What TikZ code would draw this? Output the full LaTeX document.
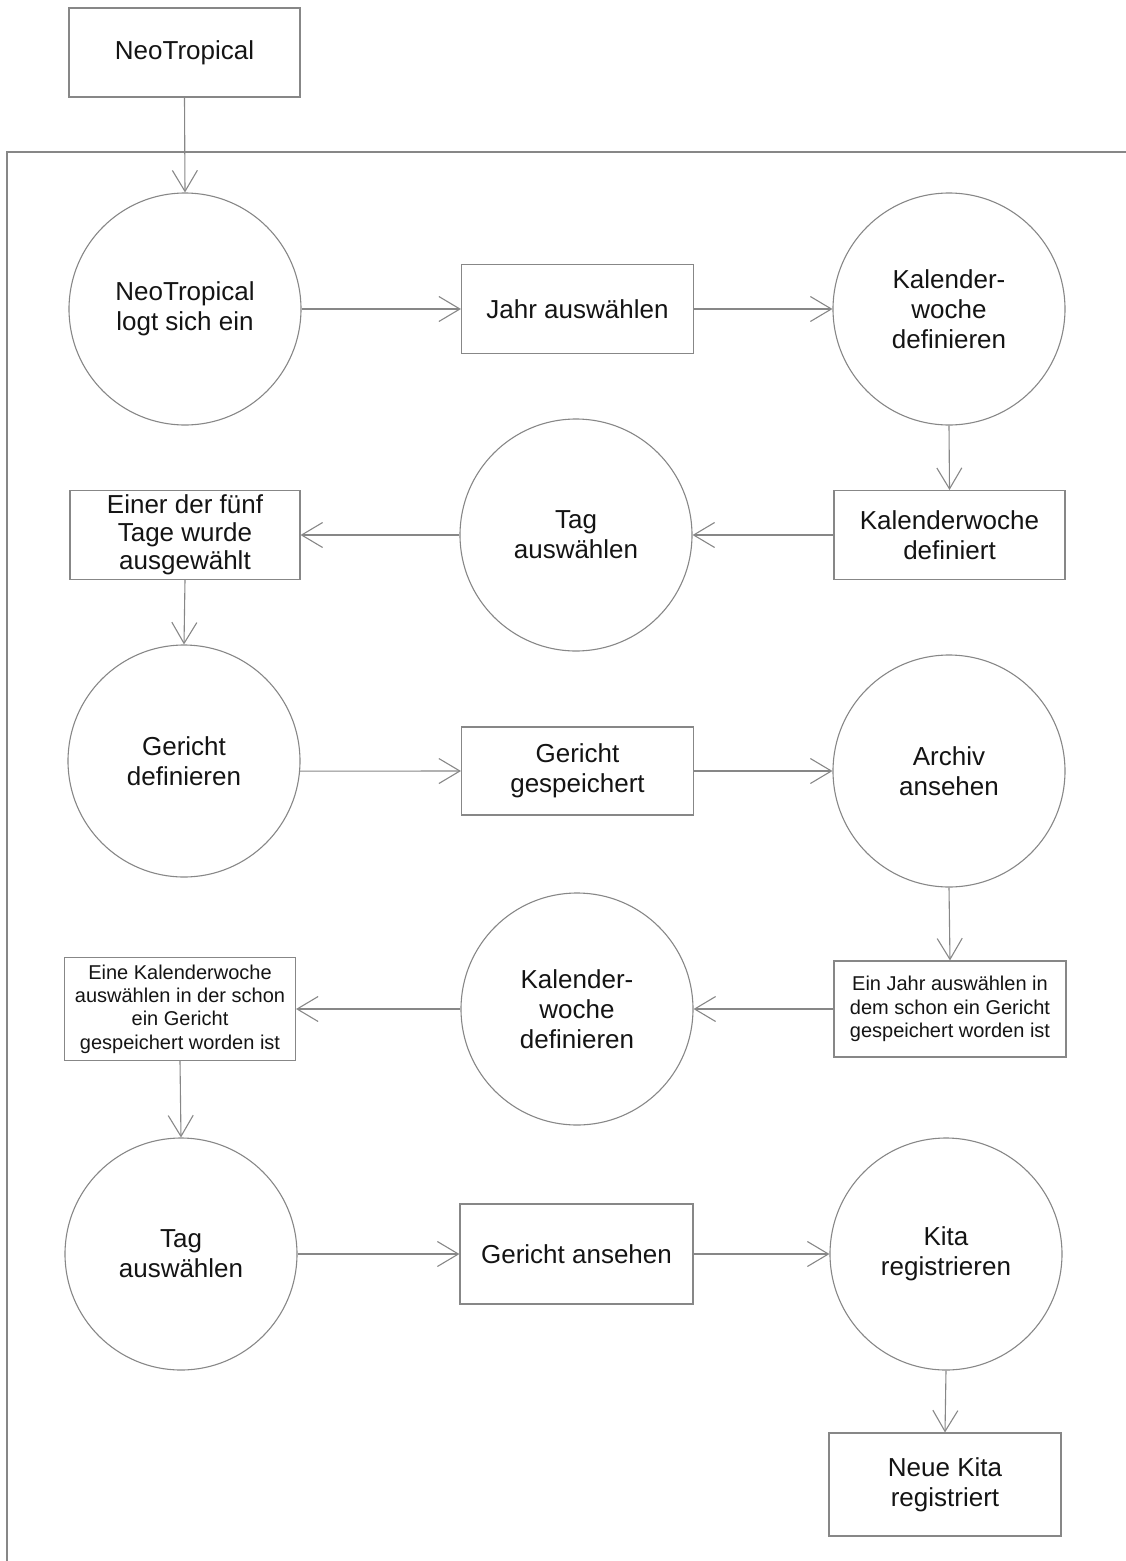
\documentclass[tikz,border=0pt]{standalone}
\usepackage{fontspec}
\setmainfont{Liberation Sans}
\usetikzlibrary{arrows.meta}
\definecolor{linegray}{RGB}{135,135,135}
\definecolor{textblack}{RGB}{20,20,20}
\tikzset{
  base/.style={draw=linegray, line width=1.1pt, text=textblack, align=center, inner sep=0pt,
    font=\fontsize{26}{30}\selectfont},
  procbox/.style={base, rectangle, minimum width=231pt, minimum height=89pt},
  smallbox/.style={procbox, font=\fontsize{20}{23.3}\selectfont},
  proccirc/.style={base, circle, minimum size=232pt},
  conn/.style={draw=linegray, line width=1.1pt, -{Straight Barb[length=21pt, width=25pt, line width=1.1pt]}},
}
\begin{document}
\begin{tikzpicture}[x=1pt, y=-1pt]
\useasboundingbox (0,0) rectangle (1126,1561);
% frame
\draw[linegray, line width=1.1pt] (1126,152) -- (7,152) -- (7,1561);
% nodes
\node[procbox] (top) at (184.5,52.5) {NeoTropical};
\node[proccirc] (c1) at (185,309) {NeoTropical\\logt sich ein};
\node[procbox, minimum width=232pt] (jahr) at (577.5,309) {Jahr auswählen};
\node[proccirc] (kw1) at (949,309) {Kalender-\\woche\\definieren};
\node[procbox] (kwd) at (949.5,535) {Kalenderwoche\\definiert};
\node[proccirc] (tag1) at (576,535) {Tag\\auswählen};
\node[procbox, minimum width=230pt, font=\fontsize{26}{28}\selectfont] (einer) at (185,535) {Einer der fünf\\Tage wurde\\ausgewählt};
\node[proccirc] (gd) at (184,761) {Gericht\\definieren};
\node[procbox, minimum width=232pt, minimum height=88pt] (gs) at (577.5,771) {Gericht\\gespeichert};
\node[proccirc] (archiv) at (949,771) {Archiv\\ansehen};
\node[smallbox, minimum width=232pt, minimum height=96pt] (einjahr) at (950,1009) {Ein Jahr auswählen in\\dem schon ein Gericht\\gespeichert worden ist};
\node[proccirc] (kw2) at (577,1009) {Kalender-\\woche\\definieren};
\node[smallbox, minimum height=103pt] (eine) at (180,1009) {Eine Kalenderwoche\\auswählen in der schon\\ein Gericht\\gespeichert worden ist};
\node[proccirc] (tag2) at (181,1254) {Tag\\auswählen};
\node[procbox, minimum width=233pt, minimum height=100pt] (ga) at (576.5,1254) {Gericht ansehen};
\node[proccirc] (kita) at (946,1254) {Kita\\registrieren};
\node[procbox, minimum width=232pt, minimum height=103pt] (neue) at (945,1484.5) {Neue Kita\\registriert};
% connectors
\draw[conn] (top.south) -- (c1.north);
\draw[conn] (c1.east) -- (jahr.west);
\draw[conn] (jahr.east) -- (kw1.west);
\draw[conn] (kw1.south) -- (kwd.north);
\draw[conn] (kwd.west) -- (tag1.east);
\draw[conn] (tag1.west) -- (einer.east);
\draw[conn] (einer.south) -- (gd.north);
\draw[conn] (gd.-5) -- (gs.west);
\draw[conn] (gs.east) -- (archiv.west);
\draw[conn] (archiv.south) -- (einjahr.north);
\draw[conn] (einjahr.west) -- (kw2.east);
\draw[conn] (kw2.west) -- (eine.east);
\draw[conn] (eine.south) -- (tag2.north);
\draw[conn] (tag2.east) -- (ga.west);
\draw[conn] (ga.east) -- (kita.west);
\draw[conn] (kita.south) -- (neue.north);
\end{tikzpicture}
\end{document}
